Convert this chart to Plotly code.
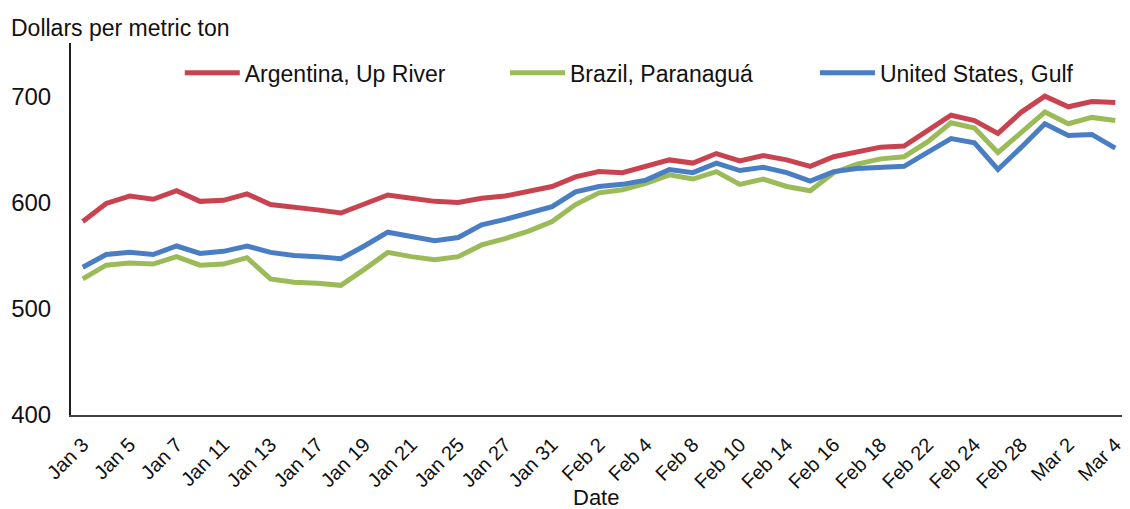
import plotly.graph_objects as go

dates = ["Jan 3", "Jan 4", "Jan 5", "Jan 6", "Jan 7", "Jan 10", "Jan 11", "Jan 12", "Jan 13", "Jan 14",
         "Jan 17", "Jan 18", "Jan 19", "Jan 20", "Jan 21", "Jan 24", "Jan 25", "Jan 26", "Jan 27", "Jan 28",
         "Jan 31", "Feb 1", "Feb 2", "Feb 3", "Feb 4", "Feb 7", "Feb 8", "Feb 9", "Feb 10", "Feb 11",
         "Feb 14", "Feb 15", "Feb 16", "Feb 17", "Feb 18", "Feb 21", "Feb 22", "Feb 23", "Feb 24", "Feb 25",
         "Feb 28", "Mar 1", "Mar 2", "Mar 3", "Mar 4"]

argentina = [582, 599, 606, 603, 611, 601, 602, 608, 598, 596,
             593, 590, 599, 607, 604, 601, 600, 604, 606, 610,
             615, 624, 629, 628, 634, 640, 637, 646, 639, 644,
             640, 634, 643, 648, 652, 653, 667, 682, 677, 665,
             685, 700, 690, 695, 694]

brazil = [528, 541, 543, 542, 549, 541, 542, 548, 528, 525,
          524, 522, 537, 553, 549, 546, 549, 560, 566, 573,
          582, 598, 609, 612, 618, 626, 622, 629, 617, 622,
          615, 611, 628, 636, 641, 643, 657, 675, 670, 647,
          666, 685, 674, 680, 677]

us_gulf = [539, 551, 553, 551, 559, 552, 554, 559, 553, 550,
           549, 547, 559, 572, 568, 564, 567, 579, 584, 590,
           596, 610, 615, 617, 621, 631, 628, 637, 630, 633,
           628, 620, 629, 632, 633, 634, 647, 660, 656, 631,
           652, 674, 663, 664, 651]

tick_labels = dates[::2]
y_ticks = [400, 500, 600, 700]

series = [
    ("Argentina, Up River", argentina, "#C8434F", "legend", 0.103),
    ("Brazil, Paranaguá", brazil, "#9BBB59", "legend2", 0.411),
    ("United States, Gulf", us_gulf, "#4A7EC4", "legend3", 0.7045),
]

FONT = "Liberation Sans, Arial, sans-serif"

fig = go.Figure()
legends = {}
for name, vals, color, leg, lx in series:
    fig.add_trace(go.Scatter(x=dates, y=vals, name=name, mode="lines", legend=leg,
                             line=dict(color=color, width=5)))
    legends[leg] = dict(orientation="h", x=lx, xanchor="left", y=0.92, yanchor="middle",
                        font=dict(size=23, family=FONT, color="#111111"),
                        itemwidth=55, bgcolor="rgba(0,0,0,0)")

# page body adds an 8px offset, so the figure is 8px smaller than the window
fig.update_layout(
    width=1122, height=501,
    margin=dict(l=63, r=3, t=35, b=94),
    paper_bgcolor="white", plot_bgcolor="white",
    font=dict(family=FONT, color="#111111"),
    showlegend=True,
    **legends,
    xaxis=dict(type="category", range=[-0.5, len(dates) - 0.5],
               tickmode="array", tickvals=tick_labels, ticktext=tick_labels,
               tickangle=-45, tickfont=dict(size=20, family=FONT, color="#111111"),
               showgrid=False, zeroline=False, showline=True, linecolor="#404040", linewidth=2,
               ticks="", ticklabelstandoff=8, automargin=False),
    yaxis=dict(range=[400, 750], tickmode="array", tickvals=y_ticks,
               tickfont=dict(size=24, family=FONT, color="#111111"),
               showgrid=False, zeroline=False, showline=True, linecolor="#202020", linewidth=2,
               ticks="", ticklabelstandoff=13, automargin=False),
    annotations=[
        dict(text="Dollars per metric ton", xref="paper", yref="paper", x=0, y=1,
             xanchor="left", yanchor="bottom", xshift=-62, yshift=0, showarrow=False,
             font=dict(size=23, family=FONT, color="#111111")),
        dict(text="Date", xref="paper", yref="paper", x=0.497, y=0,
             xanchor="center", yanchor="middle", yshift=-82, showarrow=False,
             font=dict(size=22, family=FONT, color="#111111")),
    ],
)

fig.write_html("out.html")
